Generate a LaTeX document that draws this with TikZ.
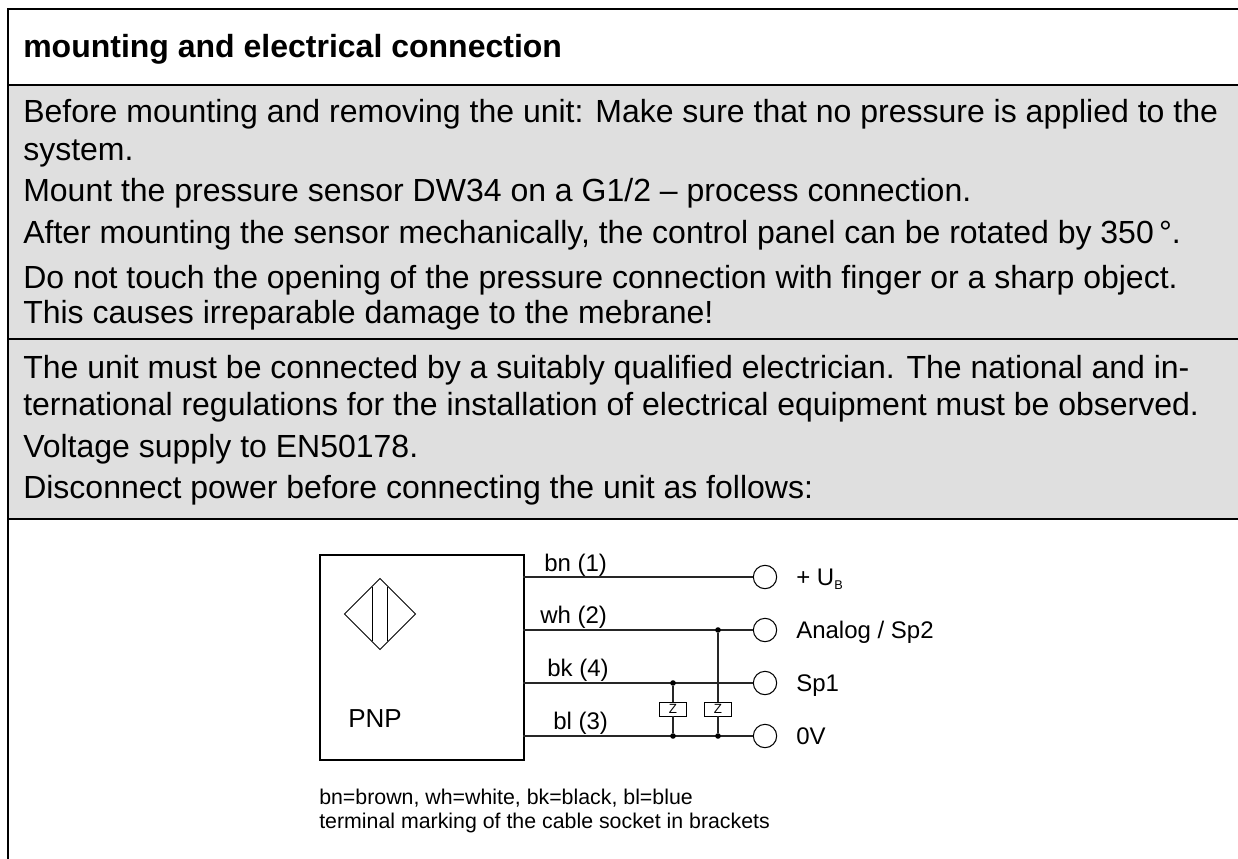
\documentclass[tikz,border=0pt]{standalone}
\usepackage{fontspec}
\setmainfont{Liberation Sans}
\usetikzlibrary{positioning,shapes.geometric}
\tikzset{
  bodytext/.style={anchor=base west,inner sep=0pt,font=\fontsize{24}{28}\selectfont},
  smalltext/.style={anchor=base west,inner sep=0pt,font=\fontsize{18}{21}\selectfont},
  tinytext/.style={anchor=base west,inner sep=0pt,font=\fontsize{16}{19}\selectfont},
  terminal/.style={circle,draw,line width=0.8pt,minimum size=17.5pt,inner sep=0pt},
  zbox/.style={rectangle,draw,line width=0.7pt,fill=white,minimum width=20pt,minimum height=10.5pt,inner sep=0pt,font=\fontsize{10}{10}\selectfont},
  junction/.style={circle,fill,minimum size=4.2pt,inner sep=0pt},
  wire/.style={line width=0.9pt,black!85},
  rule/.style={line width=0.9pt}
}
\begin{document}
\begin{tikzpicture}[x=0.75pt,y=-0.75pt]
  \useasboundingbox (0,0) rectangle (1238,859);
  % panels
  \fill [black!12.5] (8,85) rectangle (1238,519);
  \draw [line width=1.5pt] (8,859) -- (8,9) -- (1238,9);
  \draw [rule] (8,85) -- (1238,85);
  \draw [rule] (8,339) -- (1238,339);
  \draw [rule] (8,519) -- (1238,519);
  % text
  \node [bodytext] (title) at (23,58) {\bfseries mounting and electrical connection};
  \node [bodytext] (m1) at (23,123) {Before mounting and removing the unit: Make sure that no pressure is applied to the};
  \node [bodytext] (m2) at (23,161) {system.};
  \node [bodytext] (m3) at (23,202) {Mount the pressure sensor DW34 on a G1/2 -- process connection.};
  \node [bodytext] (m4) at (23,244) {After mounting the sensor mechanically, the control panel can be rotated by 350\,°.};
  \node [bodytext] (m5) at (23,288) {Do not touch the opening of the pressure connection with finger or a sharp object.};
  \node [bodytext] (m6) at (23,323) {This causes irreparable damage to the mebrane!};
  \node [bodytext] (e1) at (23,378) {The unit must be connected by a suitably qualified electrician. The national and in-};
  \node [bodytext] (e2) at (23,415) {ternational regulations for the installation of electrical equipment must be observed.};
  \node [bodytext] (e3) at (23,457) {Voltage supply to EN50178.};
  \node [bodytext] (e4) at (23,498) {Disconnect power before connecting the unit as follows:};
  % sensor
  \node [draw,line width=1.2pt,minimum width=153pt,minimum height=153.75pt,inner sep=0pt,anchor=north west] (sensor) at (319,554) {};
  \node [diamond,draw,line width=0.6pt,minimum width=53.5pt,minimum height=53.5pt,inner sep=0pt] (sym) at (380,614) {};
  \draw [line width=0.7pt] (372,587) -- (372,641) (387,587) -- (387,641);
  \node [smalltext,font=\fontsize{19.5}{22}\selectfont] (pnp) at (348,727) {PNP};
  % terminals
  \node [terminal] (tub) at (765,577) {};
  \node [terminal] (tan) at (765,630) {};
  \node [terminal] (tsp) at (765,683) {};
  \node [terminal] (tgn) at (765,736) {};
  \node [smalltext] (lub) at (796,585) {+ U\raisebox{-3.5pt}{\fontsize{9.5}{10}\selectfont B}};
  \node [smalltext] (lan) at (796,638) {Analog / Sp2};
  \node [smalltext] (lsp) at (796,691) {Sp1};
  \node [smalltext] (lgn) at (796,744) {0V};
  % wires
  \coordinate (wbn) at (523,577);
  \coordinate (wwh) at (523,630);
  \coordinate (wbk) at (523,683);
  \coordinate (wbl) at (523,736);
  \draw [wire] (wbn) -- (tub);
  \draw [wire] (wwh) -- (tan);
  \draw [wire] (wbk) -- (tsp);
  \draw [wire] (wbl) -- (tgn);
  \node [smalltext] (lbn) at (544,571) {bn (1)};
  \node [smalltext] (lwh) at (540,623) {wh (2)};
  \node [smalltext] (lbk) at (547,676) {bk (4)};
  \node [smalltext] (lbl) at (553,729) {bl (3)};
  % z elements
  \node [junction] (j1) at (673,683) {};
  \node [junction] (j2) at (718,630) {};
  \node [junction] (j3) at (673,736) {};
  \node [junction] (j4) at (718,736) {};
  \node [zbox] (z1) at (673,709) {Z};
  \node [zbox] (z2) at (718,709) {Z};
  \draw [wire] (j1) -- (z1) -- (j3);
  \draw [wire] (j2) -- (z2) -- (j4);
  % legend
  \node [tinytext] (leg1) at (319,804) {bn=brown, wh=white, bk=black, bl=blue};
  \node [tinytext] (leg2) at (319,828) {terminal marking of the cable socket in brackets};
\end{tikzpicture}
\end{document}
